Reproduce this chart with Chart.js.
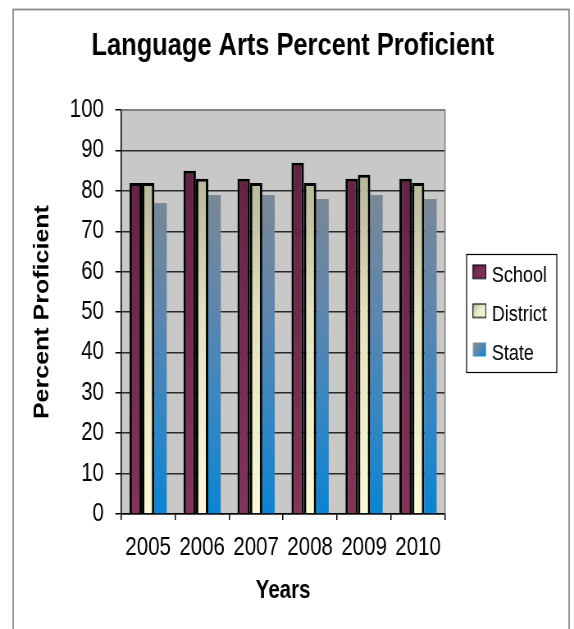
<!DOCTYPE html>
<html><head><meta charset="utf-8">
<script src="https://cdn.jsdelivr.net/npm/chart.js@4/dist/chart.umd.min.js"></script>
<style>
html,body{margin:0;padding:0;background:#fff;overflow:hidden;}
#wrap{width:574px;height:629px;overflow:hidden;position:relative;}
#c{position:absolute;left:0;top:0;transform:scaleX(0.82);transform-origin:0 0;}
</style>
</head><body>
<div id="wrap"><canvas id="c" width="700" height="629"></canvas></div>
<script>
const categories = ['2005', '2006', '2007', '2008', '2009', '2010'];
const seriesNames = ['School', 'District', 'State'];
const schoolValues = [82, 85, 83, 87, 83, 83];
const districtValues = [82, 83, 82, 82, 84, 82];
const stateValues = [77, 79, 79, 78, 79, 78];
const yTickValues = [0, 10, 20, 30, 40, 50, 60, 70, 80, 90, 100];
const chartTitle = 'Language Arts Percent Proficient';
const xTitle = 'Years';
const yTitle = 'Percent Proficient';

const SANS = "'Liberation Sans', Arial, sans-serif";

function vGrad(chart, stops, fallback) {
  const { ctx, chartArea } = chart;
  if (!chartArea) return fallback;
  const g = ctx.createLinearGradient(0, chartArea.top, 0, chartArea.bottom);
  stops.forEach(([o, c]) => g.addColorStop(o, c));
  return g;
}

// legend swatch images (style only)
function makeSwatch(stops, border) {
  const cv = document.createElement('canvas');
  cv.width = 38; cv.height = 24;
  const x = cv.getContext('2d');
  const g = x.createLinearGradient(21, 1, 37, 15);
  stops.forEach(([o, c]) => g.addColorStop(o, c));
  x.fillStyle = g;
  x.fillRect(21.5, 1, 16, 14);
  if (border) {
    x.strokeStyle = '#000';
    x.lineWidth = 1.2;
    x.strokeRect(21.5, 1.5, 16, 13.5);
  }
  return cv;
}
const swatches = [
  makeSwatch([[0, '#6A2446'], [1, '#86345C']], true),
  makeSwatch([[0, '#B8B8A0'], [0.5, '#EEEECC'], [1, '#F8F8DA']], true),
  makeSwatch([[0, '#909090'], [0.5, '#5C88B0'], [1, '#0A84D4']], false)
];

const framePlugin = {
  id: 'frame',
  beforeDraw(chart) {
    const { ctx, chartArea: a } = chart;
    ctx.save();
    ctx.fillStyle = '#fff';
    ctx.fillRect(0, 0, chart.width, chart.height);
    ctx.strokeStyle = '#8c8c8c';
    ctx.lineWidth = 1.8;
    ctx.strokeRect(16, 9.5, 678, 650);
    ctx.fillStyle = '#C8C8C8';
    ctx.fillRect(a.left, a.top, a.right - a.left, a.bottom - a.top);
    ctx.restore();
  },
  afterDraw(chart) {
    const { ctx, chartArea: a, legend } = chart;
    ctx.save();
    ctx.strokeStyle = '#808080';
    ctx.lineWidth = 1.5;
    ctx.beginPath();
    ctx.moveTo(a.left, a.top);
    ctx.lineTo(a.right, a.top);
    ctx.lineTo(a.right, a.bottom);
    ctx.stroke();
    if (legend && legend.legendHitBoxes && legend.legendHitBoxes.length) {
      const hb = legend.legendHitBoxes;
      let l = Infinity, r = -Infinity, t = Infinity, b = -Infinity;
      hb.forEach(h => { l = Math.min(l, h.left); r = Math.max(r, h.left + h.width); t = Math.min(t, h.top); b = Math.max(b, h.top + h.height); });
      ctx.strokeStyle = '#000';
      ctx.lineWidth = 1.2;
      ctx.strokeRect(Math.round(l + 9), Math.round(t - 11) + 0.5, Math.round(r - l + 3), Math.round(b - t + 18));
    }
    ctx.restore();
  }
};

new Chart(document.getElementById('c'), {
  type: 'bar',
  data: {
    labels: categories,
    datasets: [
      {
        label: seriesNames[0], data: schoolValues,
        backgroundColor: c => vGrad(c.chart, [[0, '#5A2040'], [0.3, '#6A2648'], [1, '#823459']], '#762A50'),
        borderColor: '#000', borderWidth: 3
      },
      {
        label: seriesNames[1], data: districtValues,
        backgroundColor: c => vGrad(c.chart, [[0, '#9C9C84'], [0.15, '#B4B498'], [0.5, '#E2E2BE'], [1, '#FAFAD8']], '#E4E4C0'),
        borderColor: '#000', borderWidth: 3
      },
      {
        label: seriesNames[2], data: stateValues,
        backgroundColor: c => vGrad(c.chart, [[0, '#80868E'], [0.2, '#7C8894'], [0.5, '#5E86AE'], [0.8, '#2E86C6'], [1, '#0C84D2']], '#5A88B4'),
        borderWidth: 0
      }
    ]
  },
  options: {
    responsive: false,
    animation: false,
    devicePixelRatio: 1,
    categoryPercentage: 0.69,
    barPercentage: 1,
    layout: { padding: { top: 10, left: 37, right: 23, bottom: 10 } },
    plugins: {
      title: {
        display: true, text: chartTitle, color: '#000',
        font: { family: SANS, size: 31, weight: 'bold' },
        padding: { top: 18, bottom: 45 }
      },
      legend: {
        position: 'right',
        labels: {
          color: '#000', usePointStyle: true, pointStyleWidth: 29, boxHeight: 14, padding: 17,
          font: { family: SANS, size: 22 },
          generateLabels(chart) {
            const items = Chart.defaults.plugins.legend.labels.generateLabels(chart);
            items.forEach((it, i) => {
              it.pointStyle = swatches[i];
              it.lineWidth = 0;
            });
            return items;
          }
        }
      },
      tooltip: { enabled: false }
    },
    scales: {
      x: {
        grid: { offset: true, drawOnChartArea: false, drawTicks: true, tickLength: 6, color: '#000', tickColor: '#000', lineWidth: 1.5 },
        border: { color: '#000', width: 1.5 },
        ticks: { color: '#000', font: { family: SANS, size: 25 }, padding: 13, maxRotation: 0, autoSkip: false },
        title: { display: true, text: xTitle, color: '#000', font: { family: SANS, size: 25, weight: 'bold' }, padding: { top: 0, bottom: 13 } }
      },
      y: {
        min: 0, max: 100,
        afterBuildTicks: s => { s.ticks = yTickValues.map(v => ({ value: v })); },
        ticks: { color: '#000', font: { family: SANS, size: 25 }, padding: 14 },
        grid: { color: c => (c.tick && c.tick.value === 100 ? '#808080' : '#2a2a2a'), tickColor: '#000', tickLength: 7, lineWidth: 1.5 },
        border: { color: '#000', width: 1.5 },
        title: { display: true, text: yTitle, color: '#000', font: { family: SANS, size: 25, weight: 'bold' }, padding: { top: 0, bottom: 4 } }
      }
    }
  },
  plugins: [framePlugin]
});
</script>
</body></html>
